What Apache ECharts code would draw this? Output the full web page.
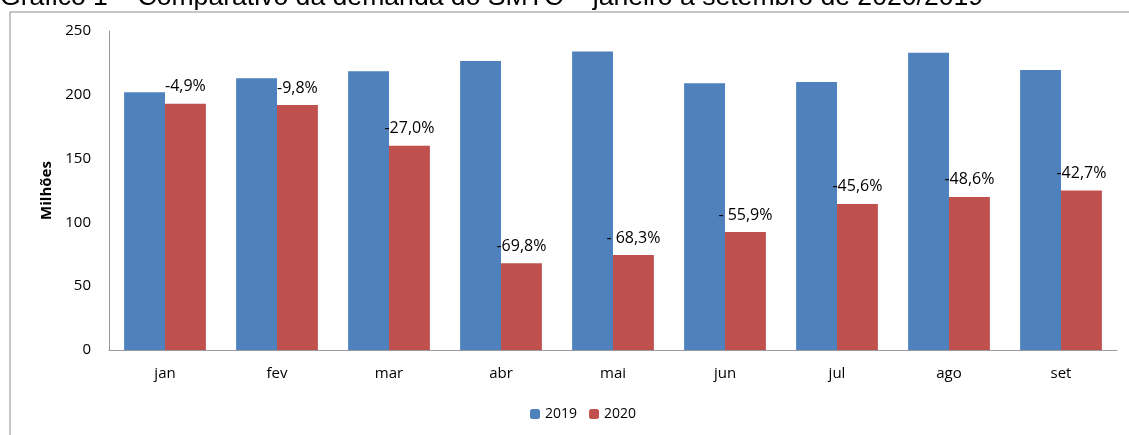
<!DOCTYPE html>
<html>
<head>
<meta charset="utf-8">
<script src="https://cdn.jsdelivr.net/npm/echarts@6/dist/echarts.min.js"></script>
<style>
  html, body { margin: 0; padding: 0; background: #fff; }
  #main { width: 1129px; height: 435px; }
</style>
</head>
<body>
<div id="main"></div>
<script>
    var months = ['jan', 'fev', 'mar', 'abr', 'mai', 'jun', 'jul', 'ago', 'set'];
    var demanda2019 = [202, 213, 218.5, 226.5, 234, 209, 210, 233, 219.5];
    var demanda2020 = [193, 192, 160, 68, 74.5, 92.5, 114.5, 120, 125];
    var variacao = ['-4,9%', '-9,8%', '-27,0%', '-69,8%', '- 68,3%', '- 55,9%', '-45,6%', '-48,6%', '-42,7%'];

    var font = 'Open Sans';
    var chart = echarts.init(document.getElementById('main'));
    chart.setOption({
        animation: false,
        textStyle: { fontFamily: font },
        graphic: [
            { type: 'rect', shape: { x: 10, y: 12, width: 1140, height: 440 },
              style: { fill: 'none', stroke: '#8c8c8c', lineWidth: 1 } },
            { type: 'text', x: 0, y: 11,
              style: { text: 'Gráfico 1 – Comparativo da demanda do SMTC – janeiro a setembro de 2020/2019',
                       font: '26.6px "Liberation Sans"', fill: '#000', verticalAlign: 'bottom' } }
        ],
        legend: {
            bottom: 9, left: 525,
            itemWidth: 10, itemHeight: 10, itemGap: 12,
            textStyle: { fontSize: 14, color: '#000', fontFamily: font },
            data: ['2019', '2020']
        },
        grid: { left: 109, right: 12, top: 31, bottom: 85 },
        xAxis: {
            type: 'category', data: months,
            axisLine: { lineStyle: { color: '#999' } },
            axisTick: { show: false },
            axisLabel: { color: '#000', fontSize: 15, margin: 16 }
        },
        yAxis: {
            type: 'value', min: 0, max: 250, interval: 50,
            name: 'Milhões', nameLocation: 'middle', nameGap: 53, nameRotate: 90,
            nameTextStyle: { fontWeight: 'bold', fontSize: 15, color: '#000' },
            axisLine: { show: true, lineStyle: { color: '#999' } },
            axisTick: { show: false },
            splitLine: { show: false },
            axisLabel: { color: '#000', fontSize: 15, margin: 18 }
        },
        series: [
            { name: '2019', type: 'bar', data: demanda2019, barGap: '0%', barCategoryGap: '27%',
              itemStyle: { color: '#4f81bd' } },
            { name: '2020', type: 'bar', data: demanda2020,
              itemStyle: { color: '#c0504d' },
              label: { show: true, position: 'top', distance: 9, color: '#000', fontSize: 16,
                       formatter: function (p) { return variacao[p.dataIndex]; } } }
        ]
    });
</script>
</body>
</html>
